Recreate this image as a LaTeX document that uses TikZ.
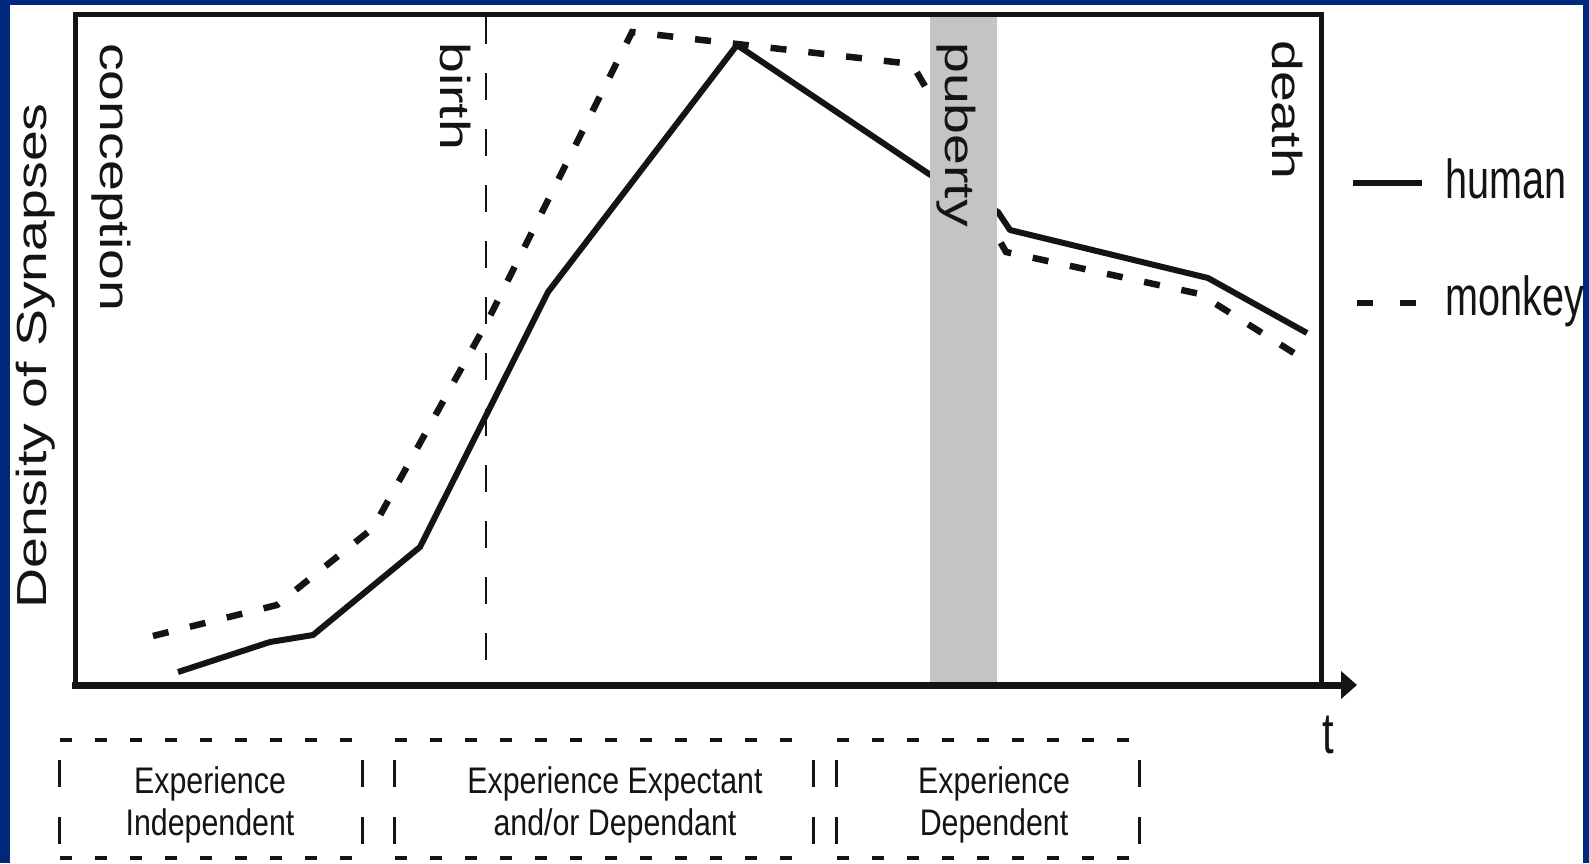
\documentclass[tikz,border=0pt]{standalone}
\usepackage{fontspec}
\setmainfont{Liberation Sans}
\newfontfamily\rotfont[FakeStretch=1.32]{Liberation Sans}
\newfontfamily\legfont[FakeStretch=0.72]{Liberation Sans}
\newfontfamily\boxfont[FakeStretch=0.82]{Liberation Sans}
\usetikzlibrary{arrows.meta}
\definecolor{navy}{RGB}{0,40,124}
\definecolor{bandgray}{RGB}{196,196,196}
\definecolor{ink}{RGB}{20,20,20}
\begin{document}
\begin{tikzpicture}[x=1pt,y=-1pt,
  rotlab/.style={rotate=-90, anchor=base west, inner sep=0pt, font=\rotfont\fontsize{42}{42}\selectfont, text=ink},
  ylab/.style={rotate=90, anchor=base, inner sep=0pt, font=\rotfont\fontsize{42}{42}\selectfont, text=ink},
  leglab/.style={anchor=base west, inner sep=0pt, font=\legfont\fontsize{55}{55}\selectfont, text=ink},
  boxlab/.style={anchor=north, inner sep=0pt, align=center, font=\boxfont\fontsize{37}{42}\selectfont, text=ink},
  boxframe/.style={inner sep=0pt, minimum height=118pt},
  hdash/.style={line width=3.5pt, dash pattern=on 12pt off 23pt, draw=ink},
  vdash/.style={line width=3pt, dash pattern=on 27pt off 30pt, dash phase=37pt, draw=ink},
  humanline/.style={line width=6pt, line join=round, draw=ink},
  monkeyline/.style={line width=6.5pt, dash pattern=on 16pt off 22pt, draw=ink},
  frameline/.style={line width=5pt, draw=ink},
]
% background
\useasboundingbox (0,0) rectangle (1589,863);
\fill[navy] (0,0) rectangle (1589,863);
\fill[white] (10,5) rectangle (1583,863);

% birth line
\coordinate (birthtop) at (486,17);
\coordinate (birthbot) at (486,685);
\draw[ink, line width=2.8pt, dash pattern=on 27pt off 29pt] (birthtop) -- (birthbot);

% curves
\draw[humanline] (178,672) -- (270,642) -- (313,635) -- (420,547) -- (548,292)
  -- (737,45) -- (929,174) -- (998,212) -- (1010,230) -- (1208,278) -- (1307,333);
\draw[monkeyline] (153,636) -- (277,605) -- (373,528) -- (487,322) -- (632,32)
  -- (912,64) -- (926,88) -- (998,238) -- (1006,252) -- (1200,294) -- (1305,360);

% puberty band
\fill[bandgray] (930,17) rectangle (997,683);

% frame and axis
\coordinate (tl) at (75,14);
\coordinate (tr) at (1321,14);
\coordinate (bl) at (75,685);
\coordinate (br) at (1321,685);
\coordinate (axstart) at (72,685);
\coordinate (axend) at (1357,685);
\draw[frameline] (bl) -- (tl) -- (tr) -- (br);
\draw[ink, line width=7pt, -{Triangle[length=16pt,width=27pt]}] (axstart) -- (axend);

% rotated labels
\node[rotlab] (conc) at (100,43) {conception};
\node[rotlab] (birth) at (440,42) {birth};
\node[rotlab] (pub) at (945,42) {puberty};
\node[rotlab] (death) at (1272,40) {death};
\node[ylab] (ylabel) at (46,356) {Density of Synapses};
\node[anchor=base, inner sep=0pt, font=\legfont\fontsize{58}{58}\selectfont, text=ink] (tlab) at (1328,753) {t};

% legend
\coordinate (hl1) at (1353,183);
\coordinate (hl2) at (1422,183);
\draw[ink, line width=6.5pt] (hl1) -- (hl2);
\node[leglab] (human) at (1445,198) {human};
\coordinate (ml1) at (1357,303);
\coordinate (ml2) at (1420,303);
\draw[ink, line width=6.5pt, dash pattern=on 16pt off 27pt] (ml1) -- (ml2);
\node[leglab] (monkey) at (1445,315) {monkey};

% bottom boxes
\node[boxframe, minimum width=302pt] (b1) at (211,799) {};
\node[boxframe, minimum width=418pt] (b2) at (604,799) {};
\node[boxframe, minimum width=302pt] (b3) at (988,799) {};
\foreach \b in {b1,b2,b3}{
  \draw[hdash] (\b.north west) -- (\b.north east);
  \draw[hdash] (\b.south west) -- (\b.south east);
  \draw[vdash] (\b.north west) -- (\b.south west);
  \draw[vdash] (\b.north east) -- (\b.south east);
}
\node[boxlab] (t1) at (210,766.5) {Experience\\Independent};
\node[boxlab] (t2) at (615,766.5) {Experience Expectant\\and/or Dependant};
\node[boxlab] (t3) at (994,766.5) {Experience\\Dependent};
\end{tikzpicture}
\end{document}
